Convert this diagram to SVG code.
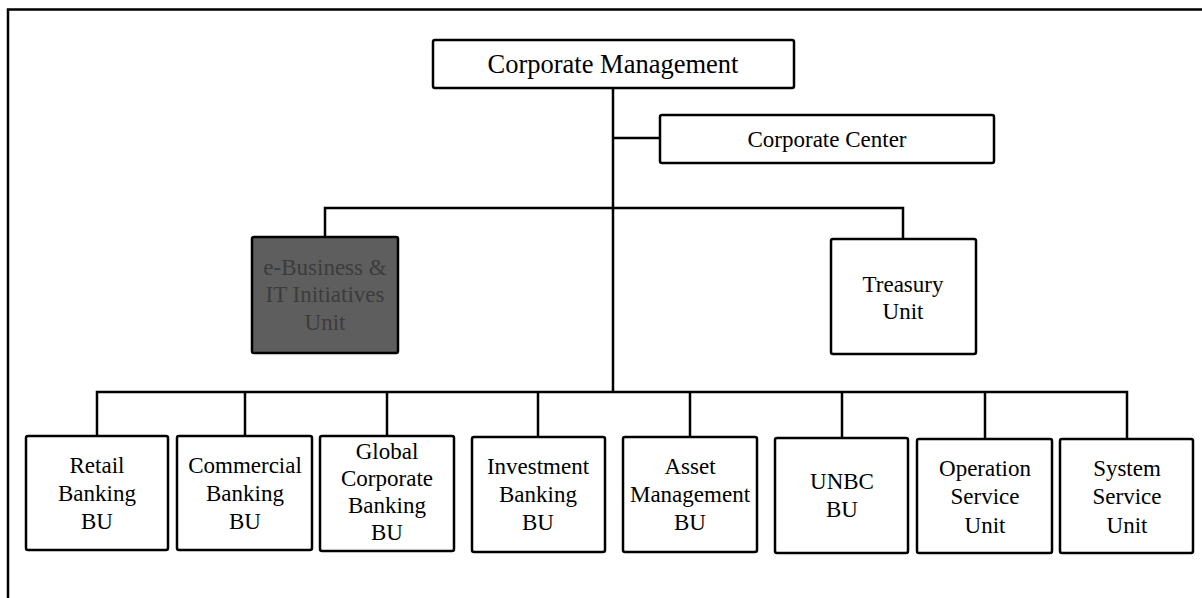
<svg xmlns="http://www.w3.org/2000/svg" width="1202" height="598" viewBox="0 0 1202 598">
<style>
.box{fill:#fff;stroke:#000;stroke-width:2.5}
.dark{fill:#5e5e5e;stroke:#000;stroke-width:2.5}
.ln{stroke:#000;stroke-width:2.5;fill:none}
text{font-family:"Liberation Serif","Times New Roman",serif;font-size:23px;text-anchor:middle;fill:#000}
.dt{fill:#3c3c3c}
</style>
<rect width="1202" height="598" fill="#fff"/>
<path class="ln" d="M8,598 V9.5 H1202" stroke-width="2"/>
<g id="connectors">
<path class="ln" d="M613,88 V392"/>
<path class="ln" d="M613,138 H660"/>
<path class="ln" d="M325,237 V208 H903 V239"/>
<path class="ln" d="M97,437 V392 H1127 V438"/>
<path class="ln" d="M245,392 V437"/>
<path class="ln" d="M387,392 V437"/>
<path class="ln" d="M538,392 V437"/>
<path class="ln" d="M690,392 V437"/>
<path class="ln" d="M842,392 V438"/>
<path class="ln" d="M985,392 V438"/>
</g>
<g id="corporate-management">
<rect class="box" x="433" y="40" width="361" height="48" rx="2"/>
<text x="613" y="73" style="font-size:26.5px">Corporate Management</text>
</g>
<g id="corporate-center">
<rect class="box" x="660" y="115" width="334" height="48" rx="2"/>
<text x="827" y="147">Corporate Center</text>
</g>
<g id="ebusiness">
<rect class="dark" x="252" y="237" width="146" height="116" rx="2"/>
<text class="dt" x="325" y="275">e-Business &amp;</text>
<text class="dt" x="325" y="302">IT Initiatives</text>
<text class="dt" x="325" y="330">Unit</text>
</g>
<g id="treasury">
<rect class="box" x="831" y="239" width="145" height="115" rx="2"/>
<text x="903" y="292">Treasury</text>
<text x="903" y="319">Unit</text>
</g>
<g id="retail">
<rect class="box" x="26" y="436" width="142" height="114" rx="2"/>
<text x="97" y="473">Retail</text>
<text x="97" y="501">Banking</text>
<text x="97" y="529">BU</text>
</g>
<g id="commercial">
<rect class="box" x="177" y="436" width="135" height="114" rx="2"/>
<text x="245" y="473">Commercial</text>
<text x="245" y="501">Banking</text>
<text x="245" y="529">BU</text>
</g>
<g id="global">
<rect class="box" x="320" y="436" width="134" height="115" rx="2"/>
<text x="387" y="459">Global</text>
<text x="387" y="486">Corporate</text>
<text x="387" y="513">Banking</text>
<text x="387" y="540">BU</text>
</g>
<g id="investment">
<rect class="box" x="472" y="437" width="133" height="115" rx="2"/>
<text x="538" y="474">Investment</text>
<text x="538" y="502">Banking</text>
<text x="538" y="530">BU</text>
</g>
<g id="asset">
<rect class="box" x="623" y="437" width="134" height="115" rx="2"/>
<text x="690" y="474">Asset</text>
<text x="690" y="502">Management</text>
<text x="690" y="530">BU</text>
</g>
<g id="unbc">
<rect class="box" x="775" y="438" width="133" height="115" rx="2"/>
<text x="842" y="489">UNBC</text>
<text x="842" y="517">BU</text>
</g>
<g id="operation">
<rect class="box" x="917" y="439" width="135" height="114" rx="2"/>
<text x="985" y="476">Operation</text>
<text x="985" y="504">Service</text>
<text x="985" y="533">Unit</text>
</g>
<g id="system">
<rect class="box" x="1060" y="439" width="133" height="114" rx="2"/>
<text x="1127" y="476">System</text>
<text x="1127" y="504">Service</text>
<text x="1127" y="533">Unit</text>
</g>
</svg>
